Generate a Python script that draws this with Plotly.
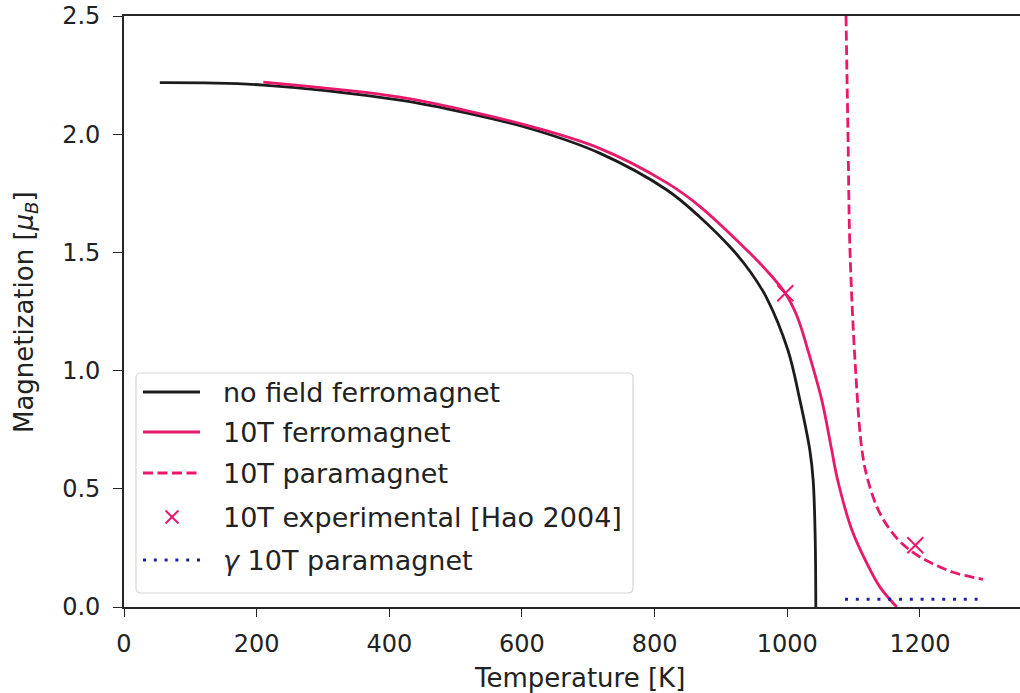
import plotly.graph_objects as go

# Magnetization curves (temperature in K, magnetization in Bohr magnetons)
nofield_T = [54, 210, 416, 516, 617, 717, 818, 868, 918, 945, 969, 1001, 1019, 1034, 1039, 1042, 1043]
nofield_M = [2.218, 2.208, 2.144, 2.09, 2.02, 1.92, 1.765, 1.65, 1.51, 1.415, 1.307, 1.086, 0.875, 0.663, 0.536, 0.3, 0.0]

ferro10_T = [210, 416, 516, 617, 717, 818, 868, 939, 968, 997, 1015, 1031, 1052, 1067, 1076, 1097.5, 1120, 1140, 1165]
ferro10_M = [2.220, 2.157, 2.10, 2.03, 1.94, 1.795, 1.695, 1.51, 1.426, 1.327, 1.228, 1.087, 0.875, 0.663, 0.536, 0.325, 0.185, 0.083, 0.0]

para10_T = [1088.5, 1091.5, 1094.5, 1103, 1112.6, 1121.6, 1139.7, 1165.4, 1189.5, 1215, 1250, 1295]
para10_M = [2.5, 2.0, 1.509, 1.0, 0.663, 0.536, 0.396, 0.290, 0.231, 0.189, 0.147, 0.117]

exp_T = [997, 1193]
exp_M = [1.327, 0.261]

gamma_T = [1087, 1150, 1200, 1250, 1298]
gamma_M = [0.033, 0.033, 0.033, 0.033, 0.033]

x_ticks = [0, 200, 400, 600, 800, 1000, 1200]
y_ticks = [0.0, 0.5, 1.0, 1.5, 2.0, 2.5]

BLACK = "#1c1c1c"
PINK = "#e8196c"
BLUE = "#1f1fa8"
FONT = "DejaVu Sans"
LW = 2.8
SMOOTH = 1.0

W, H = 1020, 693
L, R, T, B = 124, 0, 16, 86
PW, PH = W - L - R, H - T - B


def px(x):
    return (x - L) / PW


def py(y):
    return (H - B - y) / PH


fig = go.Figure()
fig.add_trace(go.Scatter(x=nofield_T, y=nofield_M, mode="lines",
                         line=dict(color=BLACK, width=LW, shape="spline", smoothing=SMOOTH),
                         showlegend=False))
fig.add_trace(go.Scatter(x=ferro10_T, y=ferro10_M, mode="lines",
                         line=dict(color=PINK, width=LW, shape="spline", smoothing=SMOOTH),
                         showlegend=False))
fig.add_trace(go.Scatter(x=para10_T, y=para10_M, mode="lines",
                         line=dict(color=PINK, width=LW, dash="10px,4.5px", shape="spline", smoothing=SMOOTH),
                         showlegend=False))
fig.add_trace(go.Scatter(x=gamma_T, y=gamma_M, mode="lines",
                         line=dict(color=BLUE, width=3, dash="3px,7.8px"), showlegend=False))
fig.add_trace(go.Scatter(x=exp_T, y=exp_M, mode="markers",
                         marker=dict(symbol="x-thin", size=16, line=dict(color=PINK, width=2)),
                         showlegend=False))

# Legend box with rounded corners
x0, x1, y0, y1, r = 136, 633, 373, 593, 5
path = (f"M{px(x0 + r)},{py(y0)} L{px(x1 - r)},{py(y0)} Q{px(x1)},{py(y0)} {px(x1)},{py(y0 + r)} "
        f"L{px(x1)},{py(y1 - r)} Q{px(x1)},{py(y1)} {px(x1 - r)},{py(y1)} "
        f"L{px(x0 + r)},{py(y1)} Q{px(x0)},{py(y1)} {px(x0)},{py(y1 - r)} "
        f"L{px(x0)},{py(y0 + r)} Q{px(x0)},{py(y0)} {px(x0 + r)},{py(y0)} Z")
shapes = [dict(type="path", xref="paper", yref="paper", path=path,
               line=dict(color="#d6d6d6", width=1.2), fillcolor="rgba(255,255,255,0.8)", layer="above")]

entries = [
    ("no field ferromagnet", 392, dict(color=BLACK, width=LW)),
    ("10T ferromagnet", 432, dict(color=PINK, width=LW)),
    ("10T paramagnet", 473, dict(color=PINK, width=LW, dash="10px,4.5px")),
    ("10T experimental [Hao 2004]", 517, None),
    ("<i>γ</i> 10T paramagnet", 560, dict(color=BLUE, width=3, dash="3px,7.8px")),
]
annotations = []
for text, yc, ln in entries:
    if ln is not None:
        shapes.append(dict(type="line", xref="paper", yref="paper",
                           x0=px(143), x1=px(200), y0=py(yc), y1=py(yc), line=ln, layer="above"))
    else:
        s = 6.5
        for d in (1, -1):
            shapes.append(dict(type="line", xref="paper", yref="paper",
                               x0=px(172 - s), x1=px(172 + s), y0=py(yc - d * s), y1=py(yc + d * s),
                               line=dict(color=PINK, width=2), layer="above"))
    annotations.append(dict(text=text, xref="paper", yref="paper", x=px(221), y=py(yc),
                            xanchor="left", yanchor="middle", showarrow=False,
                            font=dict(family=FONT, size=27, color="#222222")))

# Axis titles
annotations.append(dict(text="Temperature [K]", xref="paper", yref="paper", x=px(579), y=py(678),
                        xanchor="center", yanchor="middle", showarrow=False,
                        font=dict(family=FONT, size=26, color="#222222")))
annotations.append(dict(text="Magnetization [<i>μ</i><sub><i>B</i></sub>]", xref="paper", yref="paper",
                        x=px(25), y=py(312), xanchor="center", yanchor="middle", textangle=-90,
                        showarrow=False, font=dict(family=FONT, size=26, color="#222222")))

fig.update_layout(
    width=W, height=H,
    margin=dict(l=L, r=R, t=T, b=B, pad=0),
    paper_bgcolor="white", plot_bgcolor="white",
    font=dict(family=FONT, color="#222222"),
    shapes=shapes, annotations=annotations,
    showlegend=False,
)
fig.update_xaxes(range=[0, PW / 0.6633], tickvals=x_ticks, ticktext=[str(v) for v in x_ticks],
                 showgrid=False, zeroline=False, showline=True, linecolor="#262626", linewidth=1.6,
                 mirror=True, ticks="outside", ticklen=8, tickwidth=1.4, tickcolor="#262626",
                 tickfont=dict(family=FONT, size=24, color="#222222"), ticklabelstandoff=6)
fig.update_yaxes(range=[0, 2.5], tickvals=y_ticks, ticktext=[f"{v:.1f}" for v in y_ticks],
                 showgrid=False, zeroline=False, showline=True, linecolor="#262626", linewidth=1.6,
                 ticks="outside", ticklen=9, tickwidth=1.4, tickcolor="#262626",
                 tickfont=dict(family=FONT, size=24, color="#222222"), ticklabelstandoff=8)

fig.write_html("out.html")
